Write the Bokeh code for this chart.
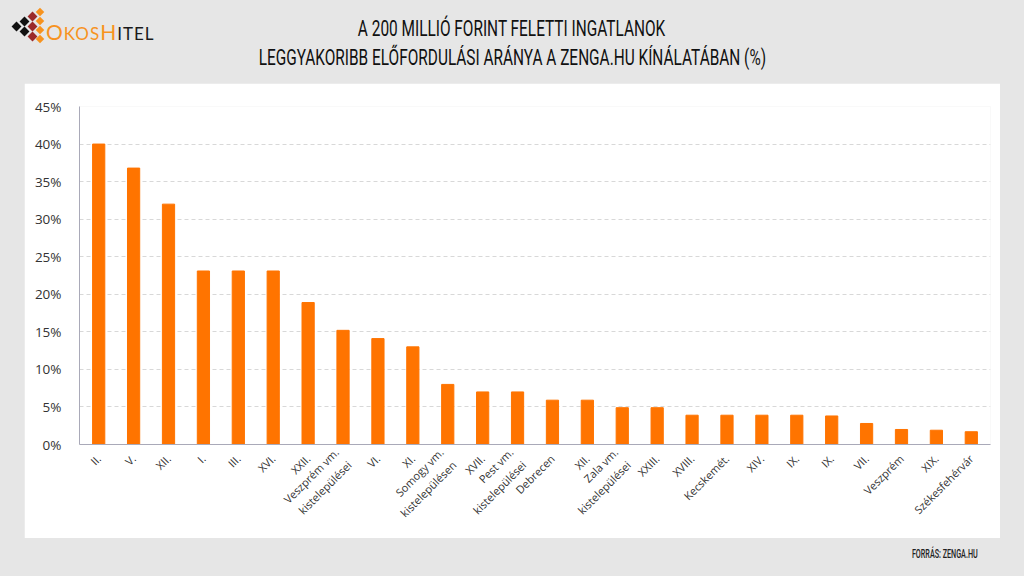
import math
from bokeh.plotting import figure
from bokeh.layouts import column
from bokeh.models import (Range1d, FixedTicker, PrintfTickFormatter, ColumnDataSource, Div)
from bokeh.embed import file_html
from bokeh.resources import INLINE

districts = ["II.", "V.", "XII.", "I.", "III.", "XVI.", "XXII.",
             "Veszprém vm.\nkistelepülései", "VI.", "XI.",
             "Somogy vm.\nkistelepülésen", "XVII.", "Pest vm.\nkistelepülései",
             "Debrecen", "XII.", "Zala vm.\nkistelepülései", "XXIII.", "XVIII.",
             "Kecskemét.", "XIV.", "IX.", "IX.", "VII.", "Veszprém", "XIX.",
             "Székesfehérvár"]
shares = [40.0, 36.8, 32.0, 23.1, 23.1, 23.1, 18.9, 15.2, 14.1, 13.0,
          8.0, 7.0, 7.0, 5.9, 5.9, 4.9, 4.9, 3.9, 3.9, 3.9, 3.9, 3.8,
          2.8, 2.0, 1.9, 1.7]
y_ticks = [0, 5, 10, 15, 20, 25, 30, 35, 40, 45]

title_1 = "A 200 MILLIÓ FORINT FELETTI INGATLANOK"
title_2 = "LEGGYAKORIBB ELŐFORDULÁSI ARÁNYA A ZENGA.HU KÍNÁLATÁBAN (%)"
source_note = "FORRÁS: ZENGA.HU"

BG = "#e6e6e6"
COND = "'Roboto', 'Noto Sans', sans-serif"
PAGE_W, PAGE_H = 1024, 576

pos = list(range(len(districts)))
src = ColumnDataSource(dict(x=pos, share=shares, name=districts))


def sq(left, top, size, color):
    return (f'<div style="position:absolute;left:{left}px;top:{top}px;width:{size}px;'
            f'height:{size}px;background:{color};transform:rotate(45deg);"></div>')


icon = "".join([
    sq(4, 14, 7, "#111"),
    sq(12, 9, 7, "#111"), sq(12, 19, 7, "#111"),
    sq(20, 4, 7, "#9b2a2a"), sq(20, 14, 7, "#9b2a2a"), sq(20, 24, 7, "#9b2a2a"),
    sq(28, 0, 6, "#f7931e"), sq(28, 9, 6, "#f7931e"),
    sq(28, 18, 6, "#f7931e"), sq(28, 27, 6, "#f7931e"),
])

header_html = f"""
<div style="position:relative;width:{PAGE_W}px;height:83px;font-family:{COND};">
  <div style="position:absolute;left:9px;top:9px;width:40px;height:36px;">{icon}</div>
  <div style="position:absolute;left:46px;top:17px;font-family:'Lato',sans-serif;font-size:17px;letter-spacing:1px;white-space:nowrap;">
    <span style="color:#f7931e;font-size:21px;">O</span><span style="color:#f7931e;">KOS</span><span style="color:#f7931e;font-size:21px;">H</span><span style="color:#1a1a1a;">ITEL</span>
  </div>
  <div style="position:absolute;left:0;top:14px;width:{PAGE_W}px;text-align:center;color:#111;font-size:22px;line-height:29px;">
    <span style="display:inline-block;transform:scaleX(0.70);transform-origin:center;white-space:nowrap;">{title_1}</span><br>
    <span style="display:inline-block;transform:scaleX(0.70);transform-origin:center;white-space:nowrap;">{title_2}</span>
  </div>
</div>
"""
header = Div(text=header_html, width=PAGE_W, height=83, margin=(0, 0, 0, 0))

footer_html = f"""
<div style="position:relative;width:{PAGE_W}px;height:38px;font-family:{COND};">
  <div style="position:absolute;right:46px;top:8px;color:#222;font-size:12px;font-weight:500;white-space:nowrap;">
    <span style="display:inline-block;transform:scaleX(0.6);transform-origin:right;">{source_note}</span>
  </div>
</div>
"""
footer = Div(text=footer_html, width=PAGE_W, height=38, margin=(0, 0, 0, 0))

p = figure(width=976, height=455, output_backend="svg", toolbar_location=None,
           x_range=Range1d(-0.55, len(districts) - 0.45), y_range=Range1d(0, 45),
           min_border_left=55, min_border_right=10, min_border_top=23,
           min_border_bottom=94, margin=(0, 24, 0, 24))
p.background_fill_color = "white"
p.border_fill_color = "white"
p.outline_line_color = None

p.vbar(x="x", top="share", width=0.35, source=src, color="#ff7400")

p.xgrid.visible = False
p.ygrid.ticker = FixedTicker(ticks=y_ticks)
p.ygrid.grid_line_color = "#d8d8d8"
p.ygrid.grid_line_dash = "4 3"

ya = p.yaxis[0]
ya.ticker = FixedTicker(ticks=y_ticks)
ya.formatter = PrintfTickFormatter(format="%d%%")
ya.major_tick_line_color = None
ya.minor_tick_line_color = None
ya.axis_line_color = "#a9a9b8"
ya.major_label_text_font = "Open Sans"
ya.major_label_text_font_size = "13.5px"
ya.major_label_text_color = "#333333"
ya.major_label_standoff = 12

xa = p.xaxis[0]
xa.ticker = FixedTicker(ticks=pos)
xa.major_label_overrides = {i: d for i, d in zip(pos, districts)}
xa.major_label_orientation = math.pi / 4
xa.major_tick_line_color = None
xa.minor_tick_line_color = None
xa.axis_line_color = "#a9a9b8"
xa.major_label_text_font = "Open Sans"
xa.major_label_text_font_size = "11px"
xa.major_label_text_color = "#333333"
xa.major_label_standoff = 6

page = column(header, p, footer, width=PAGE_W, height=PAGE_H, spacing=0,
              styles={"background-color": BG})

open("out.html", "w").write(file_html(page, INLINE))
